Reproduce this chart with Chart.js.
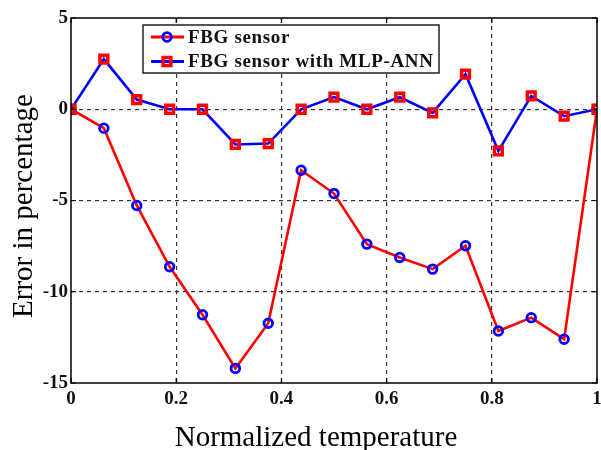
<!DOCTYPE html>
<html>
<head>
<meta charset="utf-8">
<script src="https://cdn.jsdelivr.net/npm/chart.js@4.4.1/dist/chart.umd.min.js"></script>
<style>
  html, body { margin: 0; padding: 0; background: #fff; }
  #wrap { width: 601px; height: 450px; }
</style>
</head>
<body>
<div id="wrap"><canvas id="myChart" width="601" height="450"></canvas></div>
<script>
// normalized temperature points
var temps = [0, 0.0625, 0.125, 0.1875, 0.25, 0.3125, 0.375, 0.4375, 0.5,
             0.5625, 0.625, 0.6875, 0.75, 0.8125, 0.875, 0.9375, 1];
// error (%) of the plain FBG sensor
var fbgError = [0, -1.04, -5.27, -8.63, -11.26, -14.2, -11.73, -3.34, -4.62,
                -7.39, -8.12, -8.76, -7.48, -12.15, -11.42, -12.6, 0];
// error (%) of FBG sensor with MLP-ANN
var annError = [0, 2.75, 0.53, 0, 0, -1.93, -1.88, 0, 0.67,
                0, 0.66, -0.2, 1.92, -2.28, 0.73, -0.38, 0];

var xTicks = [0, 0.2, 0.4, 0.6, 0.8, 1];
var xTickLabels = ['0', '0.2', '0.4', '0.6', '0.8', '1'];
var yTicks = [5, 0, -5, -10, -15];
var yTickLabels = ['5', '0', '-5', '-10', '-15'];

var seriesNames = ['FBG sensor', 'FBG sensor with MLP-ANN'];
var xTitle = 'Normalized temperature';
var yTitle = 'Error in percentage';

var serif = '"Liberation Serif", "Times New Roman", serif';

function pts(ys) {
  return ys.map(function (y, i) { return { x: temps[i], y: y }; });
}

// box round the plot + inward ticks on all sides
var framePlugin = {
  id: 'frame',
  afterDatasetsDraw: function (chart) {
    var ctx = chart.ctx, a = chart.chartArea;
    var xs = chart.scales.x, ys = chart.scales.y;
    ctx.save();
    ctx.strokeStyle = '#000';
    ctx.lineWidth = 1.2;
    ctx.beginPath();
    xTicks.forEach(function (t) {
      var px = xs.getPixelForValue(t);
      ctx.moveTo(px, a.bottom); ctx.lineTo(px, a.bottom - 5);
      ctx.moveTo(px, a.top); ctx.lineTo(px, a.top + 5);
    });
    yTicks.forEach(function (t) {
      var py = ys.getPixelForValue(t);
      ctx.moveTo(a.left, py); ctx.lineTo(a.left + 5, py);
      ctx.moveTo(a.right, py); ctx.lineTo(a.right - 5, py);
    });
    ctx.stroke();
    ctx.lineWidth = 1.5;
    ctx.strokeRect(a.left, a.top, a.right - a.left, a.bottom - a.top);

    // axis titles (the x one sits a bit left of the plot centre in the original)
    ctx.fillStyle = '#000';
    ctx.font = '29px ' + serif;
    ctx.textAlign = 'center';
    ctx.textBaseline = 'alphabetic';
    ctx.fillText(xTitle, 316, 446);
    ctx.translate(32, 206);
    ctx.rotate(-Math.PI / 2);
    ctx.fillText(yTitle, 0, 0);
    ctx.restore();
  }
};

// legend box like the matlab one
var legendPlugin = {
  id: 'boxLegend',
  afterDraw: function (chart) {
    var ctx = chart.ctx;
    var bx = 143, by = 25, bw = 296, bh = 48;
    ctx.save();
    ctx.fillStyle = '#fff';
    ctx.fillRect(bx, by, bw, bh);
    ctx.strokeStyle = '#222';
    ctx.lineWidth = 1.5;
    ctx.strokeRect(bx, by, bw, bh);
    var rows = [37, 61.5];
    chart.data.datasets.slice().sort(function (p, q) { return p.legendIdx - q.legendIdx; })
      .forEach(function (ds, i) {
        var y = rows[i];
        ctx.strokeStyle = ds.borderColor;
        ctx.lineWidth = 3;
        ctx.beginPath();
        ctx.moveTo(151, y); ctx.lineTo(184, y);
        ctx.stroke();
        ctx.strokeStyle = ds.pointBorderColor;
        ctx.lineWidth = ds.pointBorderWidth;
        ctx.beginPath();
        if (ds.pointStyle === 'circle') {
          ctx.arc(167, y, ds.pointRadius, 0, Math.PI * 2);
        } else {
          var s = ds.pointRadius * Math.SQRT1_2;
          ctx.rect(167 - s, y - s, 2 * s, 2 * s);
        }
        ctx.stroke();
        ctx.fillStyle = '#111';
        ctx.font = 'bold 19px ' + serif;
        ctx.letterSpacing = '0.65px';
        ctx.textBaseline = 'middle';
        ctx.textAlign = 'left';
        ctx.fillText(seriesNames[ds.legendIdx], 188, y + 1);
      });
    ctx.restore();
  }
};

new Chart(document.getElementById('myChart').getContext('2d'), {
  type: 'line',
  data: {
    datasets: [{
      label: seriesNames[1],
      legendIdx: 1,
      data: pts(annError),
      borderColor: '#0000ff',
      borderWidth: 2.6,
      pointStyle: 'rect',
      pointRadius: 5.5,
      pointBorderWidth: 3.5,
      pointBorderColor: '#ff0000',
      pointBackgroundColor: 'rgba(0,0,0,0)',
      tension: 0
    }, {
      label: seriesNames[0],
      legendIdx: 0,
      data: pts(fbgError),
      borderColor: '#ff0000',
      borderWidth: 2.6,
      pointStyle: 'circle',
      pointRadius: 4.3,
      pointBorderWidth: 2.8,
      pointBorderColor: '#0000ff',
      pointBackgroundColor: 'rgba(0,0,0,0)',
      tension: 0
    }]
  },
  options: {
    responsive: false,
    animation: false,
    events: [],
    layout: { autoPadding: false, padding: { top: 18, right: 4, left: 0, bottom: 0 } },
    plugins: { legend: { display: false }, tooltip: { enabled: false } },
    scales: {
      x: {
        type: 'linear',
        min: 0, max: 1,
        afterBuildTicks: function (s) { s.ticks = xTicks.map(function (v) { return { value: v }; }); },
        afterFit: function (s) { s.height = 67; s.paddingLeft = 0; s.paddingRight = 0; },
        grid: {
          drawTicks: false,
          color: function (c) { return (c.tick && (c.tick.value === 0 || c.tick.value === 1)) ? 'rgba(0,0,0,0)' : '#333'; },
          lineWidth: 1.2
        },
        border: { display: false, dash: [4, 4] },
        ticks: {
          padding: 5,
          color: '#111',
          font: { family: serif, size: 19, weight: 'bold' },
          maxRotation: 0,
          callback: function (v) { return xTickLabels[xTicks.indexOf(v)]; }
        }
      },
      y: {
        min: -15, max: 5,
        afterBuildTicks: function (s) { s.ticks = yTicks.map(function (v) { return { value: v }; }); },
        afterFit: function (s) { s.width = 71; },
        grid: {
          drawTicks: false,
          color: function (c) { return (c.tick && (c.tick.value === 5 || c.tick.value === -15)) ? 'rgba(0,0,0,0)' : '#333'; },
          lineWidth: 1.2
        },
        border: { display: false, dash: [4, 4] },
        ticks: {
          padding: 3,
          color: '#111',
          font: { family: serif, size: 19, weight: 'bold' },
          callback: function (v) { return yTickLabels[yTicks.indexOf(v)]; }
        }
      }
    }
  },
  plugins: [framePlugin, legendPlugin]
});
</script>
</body>
</html>
